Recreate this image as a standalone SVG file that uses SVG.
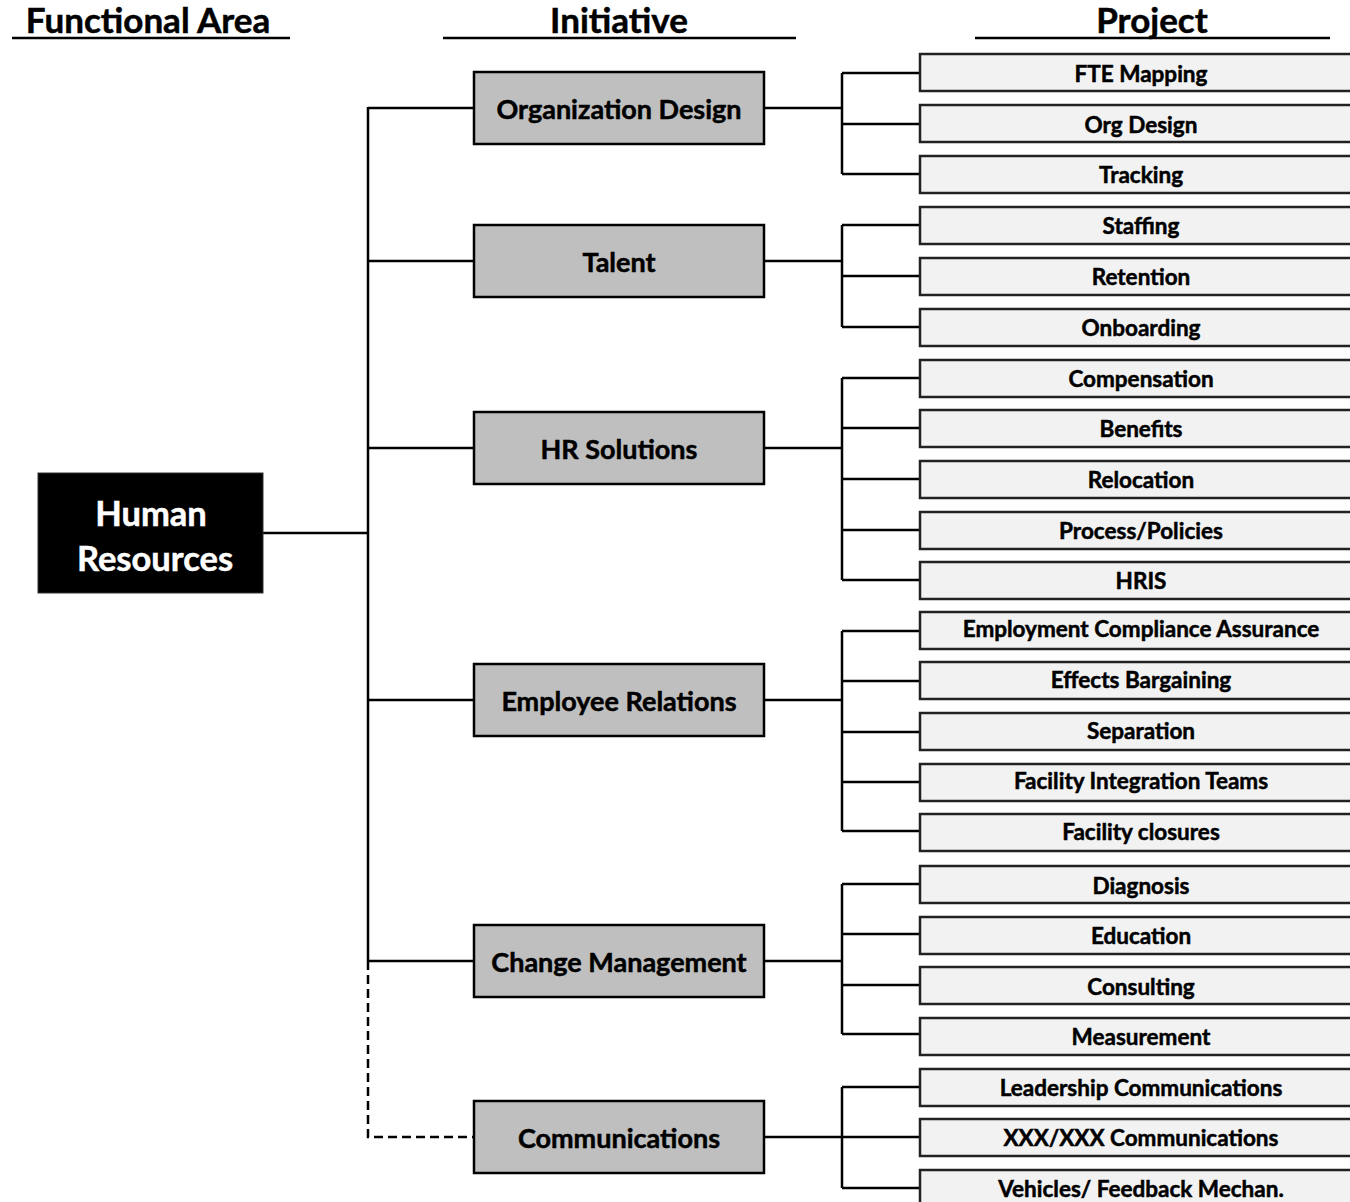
<svg xmlns="http://www.w3.org/2000/svg" width="1350" height="1202" viewBox="0 0 1350 1202">
  <style>
    text { font-family: Lato, "Liberation Sans", Arial, sans-serif; font-weight: bold; fill: #000; stroke: #000; stroke-width: 0.5; }
    .hdr { font-size: 35px; text-anchor: middle; }
    .rule { stroke: #000; stroke-width: 2.5; }
    .root rect { fill: #000; stroke: #333; stroke-width: 1; }
    .root text { fill: #fff; stroke: #fff; font-size: 34.5px; text-anchor: middle; dominant-baseline: central; }
    .init rect { fill: #bfbfbf; stroke: #000; stroke-width: 2.5; }
    .init text { font-size: 27px; text-anchor: middle; dominant-baseline: central; }
    .proj rect { fill: #f2f2f2; stroke: #222; stroke-width: 2.5; }
    .proj text { font-size: 22.5px; text-anchor: middle; dominant-baseline: central; }
    .links path { fill: none; stroke: #000; stroke-width: 2.5; }
    .links .dash { stroke-dasharray: 9 5; }
  </style>

  <!-- column headings -->
  <g id="headings">
    <text class="hdr" x="148" y="33">Functional Area</text>
    <line class="rule" x1="12" y1="38" x2="290" y2="38"/>
    <text class="hdr" x="619" y="33">Initiative</text>
    <line class="rule" x1="443" y1="38" x2="796" y2="38"/>
    <text class="hdr" x="1152" y="33">Project</text>
    <line class="rule" x1="975" y1="38" x2="1330" y2="38"/>
  </g>

  <!-- connectors -->
  <g id="connectors" class="links">
    <path d="M263 533 H368"/>
    <path d="M368 107 V961"/>
    <path d="M368 108 H474 M368 261 H474 M368 448 H474 M368 700 H474 M368 961 H474"/>
    <path class="dash" d="M368 961 V1137 H474"/>
    <!-- initiative to project branches -->
    <path d="M764 108 H842 M842 73 V174 M842 73 H920 M842 124 H920 M842 174 H920"/>
    <path d="M764 261 H842 M842 225 V327 M842 225 H920 M842 276 H920 M842 327 H920"/>
    <path d="M764 448 H842 M842 378 V580 M842 378 H920 M842 428 H920 M842 479 H920 M842 530 H920 M842 580 H920"/>
    <path d="M764 700 H842 M842 631 V831 M842 631 H920 M842 681 H920 M842 732 H920 M842 782 H920 M842 831 H920"/>
    <path d="M764 961 H842 M842 884 V1034 M842 884 H920 M842 934 H920 M842 985 H920 M842 1034 H920"/>
    <path d="M764 1137 H842 M842 1087 V1188 M842 1087 H920 M842 1137 H920 M842 1188 H920"/>
  </g>

  <!-- functional area -->
  <g id="human-resources" class="root">
    <rect x="38" y="473" width="225" height="120"/>
    <text x="151" y="512">Human</text>
    <text x="155" y="557">Resources</text>
  </g>

  <!-- initiatives -->
  <g id="init-org-design" class="init"><rect x="474" y="72" width="290" height="72"/><text x="619" y="108">Organization Design</text></g>
  <g id="init-talent" class="init"><rect x="474" y="225" width="290" height="72"/><text x="619" y="261">Talent</text></g>
  <g id="init-hr-solutions" class="init"><rect x="474" y="412" width="290" height="72"/><text x="619" y="448">HR Solutions</text></g>
  <g id="init-employee-relations" class="init"><rect x="474" y="664" width="290" height="72"/><text x="619" y="700">Employee Relations</text></g>
  <g id="init-change-management" class="init"><rect x="474" y="925" width="290" height="72"/><text x="619" y="961">Change Management</text></g>
  <g id="init-communications" class="init"><rect x="474" y="1101" width="290" height="72"/><text x="619" y="1137">Communications</text></g>

  <!-- projects -->
  <g id="proj-fte-mapping" class="proj"><rect x="920" y="54" width="442" height="37"/><text x="1141" y="73">FTE Mapping</text></g>
  <g id="proj-org-design" class="proj"><rect x="920" y="105" width="442" height="37"/><text x="1141" y="124">Org Design</text></g>
  <g id="proj-tracking" class="proj"><rect x="920" y="156" width="442" height="37"/><text x="1141" y="174">Tracking</text></g>
  <g id="proj-staffing" class="proj"><rect x="920" y="207" width="442" height="37"/><text x="1141" y="225">Staffing</text></g>
  <g id="proj-retention" class="proj"><rect x="920" y="258" width="442" height="37"/><text x="1141" y="276">Retention</text></g>
  <g id="proj-onboarding" class="proj"><rect x="920" y="309" width="442" height="37"/><text x="1141" y="327">Onboarding</text></g>
  <g id="proj-compensation" class="proj"><rect x="920" y="360" width="442" height="37"/><text x="1141" y="378">Compensation</text></g>
  <g id="proj-benefits" class="proj"><rect x="920" y="410" width="442" height="37"/><text x="1141" y="428">Benefits</text></g>
  <g id="proj-relocation" class="proj"><rect x="920" y="461" width="442" height="37"/><text x="1141" y="479">Relocation</text></g>
  <g id="proj-process-policies" class="proj"><rect x="920" y="512" width="442" height="37"/><text x="1141" y="530">Process/Policies</text></g>
  <g id="proj-hris" class="proj"><rect x="920" y="562" width="442" height="37"/><text x="1141" y="580">HRIS</text></g>
  <g id="proj-employment-compliance" class="proj"><rect x="920" y="612" width="442" height="37"/><text x="1141" y="628">Employment Compliance Assurance</text></g>
  <g id="proj-effects-bargaining" class="proj"><rect x="920" y="662" width="442" height="37"/><text x="1141" y="679">Effects Bargaining</text></g>
  <g id="proj-separation" class="proj"><rect x="920" y="713" width="442" height="37"/><text x="1141" y="730">Separation</text></g>
  <g id="proj-facility-integration" class="proj"><rect x="920" y="764" width="442" height="37"/><text x="1141" y="780">Facility Integration Teams</text></g>
  <g id="proj-facility-closures" class="proj"><rect x="920" y="814" width="442" height="37"/><text x="1141" y="831">Facility closures</text></g>
  <g id="proj-diagnosis" class="proj"><rect x="920" y="866" width="442" height="37"/><text x="1141" y="885">Diagnosis</text></g>
  <g id="proj-education" class="proj"><rect x="920" y="917" width="442" height="37"/><text x="1141" y="935">Education</text></g>
  <g id="proj-consulting" class="proj"><rect x="920" y="967" width="442" height="37"/><text x="1141" y="986">Consulting</text></g>
  <g id="proj-measurement" class="proj"><rect x="920" y="1018" width="442" height="37"/><text x="1141" y="1036">Measurement</text></g>
  <g id="proj-leadership-comms" class="proj"><rect x="920" y="1069" width="442" height="37"/><text x="1141" y="1087">Leadership Communications</text></g>
  <g id="proj-xxx-comms" class="proj"><rect x="920" y="1119" width="442" height="37"/><text x="1141" y="1137">XXX/XXX Communications</text></g>
  <g id="proj-vehicles-feedback" class="proj"><rect x="920" y="1170" width="442" height="37"/><text x="1141" y="1188">Vehicles/ Feedback Mechan.</text></g>
</svg>
